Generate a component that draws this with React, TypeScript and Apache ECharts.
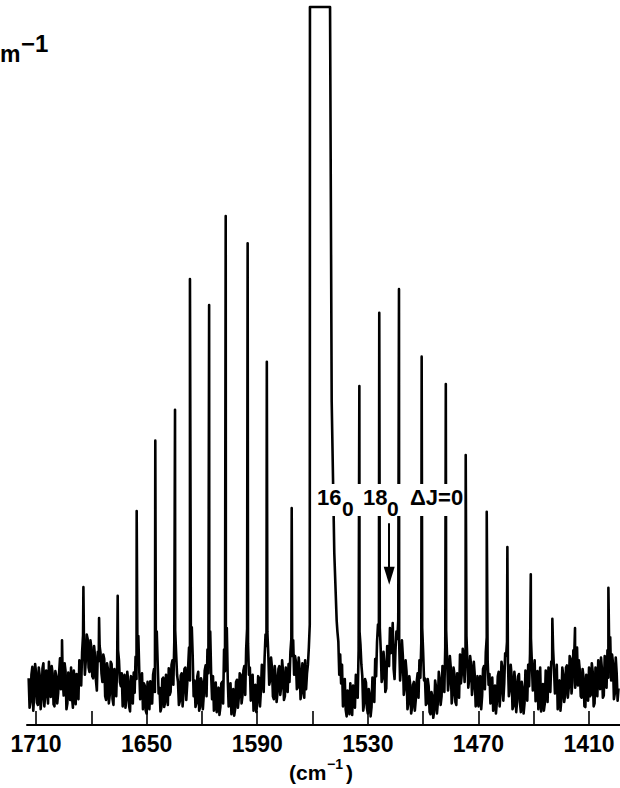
import React, { useEffect, useRef } from "react";
import * as echarts from "echarts";

// Baseline trace sampled every 1 cm-1 from 1714 down to 1394 (null = under the saturated band)
const noiseStart = 1714;
const noiseStep = 1;
const noise: (number | null)[] = [
  6.5, 3.2, 8.1, 4.0, 7.4, 2.8, 6.9, 3.5, 8.6, 4.2,
  5.1, 8.8, 3.9, 7.2, 2.6, 6.8, 4.4, 9.3, 8.0, 4.1,
  7.5, 3.0, 6.2, 8.0, 2.4, 5.8, 7.1, 3.6, 8.4, 10.2,
  11.5, 9.0, 12.0, 7.4, 10.8, 6.5, 9.6, 4.8, 8.9, 10.0,
  6.0, 9.2, 3.5, 7.8, 4.2, 8.5, 2.8, 6.4, 8.2, 9.0,
  5.4, 2.6, 7.0, 3.5, 6.2, 1.9, 5.0, 7.3, 9.5, 10.5,
  7.6, 4.0, 2.2, 5.5, 1.6, 4.3, 6.1, 3.0, 7.8, 11.0,
  8.5, 5.2, 2.4, 6.6, 3.1, 5.8, 7.9, 4.6, 9.0, 11.5,
  10.0, 6.0, 3.3, 7.2, 4.5, 8.0, 5.6, 10.8, 12.0, 9.5,
  6.2, 3.0, 7.4, 2.5, 5.9, 4.2, 8.3, 10.5, 11.2, 7.0,
  6.8, 3.4, 1.8, 5.2, 2.5, 6.0, 10.5, 11.0, 6.4, 3.1,
  1.5, 5.0, 2.2, 6.3, 3.8, 7.0, 4.1, 8.2, 10.6, 11.4,
  8.0, 4.4, 2.0, 5.6, 3.0, 6.5, 4.8, 7.6, 9.4, 11.0,
  9.8, 6.2, 8.0, 3.6, 6.8, 4.5, 8.2, 5.3, 7.5, 4.0,
  6.4, 8.5, 10.2, 9.6, 7.0, 8.8, 5.2, 7.9, 4.4, 6.6,
  9.0, 7.2, 10.8, null, null, null, null, null, null, null,
  null, null, null, null, null, null, null, null, 11.6, 9.8,
  8.4, 4.5, 2.1, 4.8, 1.5, 3.6, 5.5, 2.4, 6.8, 10.5,
  11.2, 6.8, 3.0, 5.9, 1.6, 4.2, 2.5, 6.0, 9.2, 11.6,
  12.5, 10.5, 6.6, 8.6, 5.1, 9.0, 13.5, 11.0, 7.8, 10.4,
  12.0, 11.5, 8.0, 9.6, 5.2, 7.4, 3.0, 5.6, 2.4, 6.0,
  3.5, 7.2, 9.0, 11.4, 10.2, 6.5, 3.0, 5.4, 1.5, 4.0,
  2.0, 5.3, 3.2, 6.4, 4.0, 7.6, 10.8, 9.4, 6.2, 8.0,
  4.2, 7.0, 2.8, 6.1, 9.8, 7.2, 8.8, 10.6, 9.0, 6.4,
  8.4, 5.5, 7.0, 3.8, 2.6, 6.8, 4.0, 8.2, 10.2, 9.0,
  7.1, 4.6, 2.0, 5.5, 3.2, 7.4, 4.4, 8.0, 5.8, 9.6,
  8.8, 5.0, 6.9, 2.6, 6.0, 3.4, 7.1, 1.8, 5.0, 3.0,
  6.6, 8.4, 10.0, 8.6, 6.0, 3.3, 7.5, 4.8, 1.9, 5.7,
  3.0, 6.4, 8.0, 4.6, 9.0, 7.8, 5.0, 2.2, 6.2, 3.6,
  7.0, 4.1, 8.3, 5.2, 9.2, 6.0, 10.0, 8.4, 5.5, 7.6,
  3.8, 6.7, 2.5, 5.9, 8.0, 4.2, 7.4, 3.0, 6.3, 9.0,
  5.0, 7.8, 4.1, 8.8, 10.4, 9.5, 6.2, 8.6, 4.4, 7.2, 5.1,
];

// Same trace, read at the half-way points 1713.5 ... 1394.5
const halfStart = 1713.5;
const noiseHalf: (number | null)[] = [
  2.4, 7.0, 2.0, 8.5, 3.1, 8.0, 2.2, 7.9, 2.6, 7.6,
  3.0, 4.6, 8.2, 2.9, 7.5, 3.0, 7.2, 5.0, 6.2, 8.6,
  2.2, 7.3, 3.5, 4.0, 7.6, 2.9, 4.0, 9.0, 5.5, 12.5,
  7.0, 12.6, 8.0, 11.8, 6.8, 11.0, 6.2, 10.2, 11.0, 7.2,
  9.8, 4.0, 8.6, 3.0, 8.8, 3.6, 7.8, 4.0, 10.4, 6.0,
  7.2, 6.0, 2.4, 7.4, 2.6, 6.8, 3.0, 4.5, 6.4, 12.4,
  3.6, 7.2, 5.8, 2.0, 6.0, 2.2, 3.0, 7.0, 4.6, 13.0,
  4.4, 1.9, 6.4, 2.5, 7.0, 2.8, 4.2, 8.4, 5.6, 13.2,
  7.0, 2.8, 6.9, 2.6, 7.8, 3.5, 8.0, 6.2, 13.6, 4.0,
  2.5, 6.8, 2.0, 6.5, 2.2, 7.6, 4.0, 7.2, 13.0, 3.6,
  2.0, 5.9, 4.6, 1.4, 5.8, 3.0, 7.5, 13.5, 2.6, 5.8,
  4.4, 1.3, 6.0, 2.4, 7.2, 3.0, 7.6, 4.2, 13.4, 7.0,
  3.4, 7.0, 5.4, 1.8, 6.8, 2.6, 8.4, 4.6, 12.6, 13.0,
  5.6, 9.4, 4.0, 8.2, 3.2, 7.8, 4.2, 9.0, 3.5, 8.0,
  4.6, 6.0, 12.0, 11.8, 9.6, 5.0, 9.4, 3.6, 8.6, 3.8,
  5.0, 8.4, null, null, null, null, null, null, null, null,
  null, null, null, null, null, null, null, 13.0, 7.0, 5.8,
  2.6, 6.4, 1.2, 4.0, 5.8, 1.4, 4.0, 7.0, 3.8, 13.0,
  8.4, 2.0, 6.4, 2.4, 5.0, 1.2, 6.6, 3.2, 6.8, 14.0,
  13.5, 6.0, 10.2, 4.6, 11.0, 8.2, 10.0, 14.2, 6.4, 13.0,
  14.5, 6.2, 11.8, 4.2, 9.0, 2.2, 6.8, 1.6, 5.6, 2.0,
  6.0, 3.8, 6.6, 13.5, 6.2, 2.8, 6.4, 1.8, 4.6, 1.0,
  6.2, 1.6, 7.4, 2.8, 8.2, 4.6, 13.2, 4.8, 9.6, 3.0,
  8.0, 3.2, 7.2, 3.8, 5.8, 10.6, 6.0, 12.4, 5.2, 9.6,
  4.2, 8.8, 2.6, 6.8, 5.4, 2.2, 7.8, 5.0, 12.2, 5.6,
  3.0, 6.6, 4.8, 1.6, 6.8, 2.6, 8.8, 3.4, 10.0, 11.6,
  4.0, 8.4, 2.2, 7.4, 1.8, 6.8, 3.2, 6.0, 1.6, 7.6,
  3.4, 5.4, 12.0, 4.8, 9.0, 6.8, 2.2, 8.0, 5.2, 2.0,
  7.6, 3.2, 5.0, 8.8, 10.6, 4.4, 8.4, 6.0, 2.0, 8.0,
  3.2, 8.0, 3.8, 9.6, 4.4, 10.4, 5.2, 10.8, 9.0, 4.0,
  7.8, 2.6, 7.0, 3.4, 4.0, 8.6, 2.6, 8.0, 4.0, 5.4,
  9.4, 3.8, 9.6, 5.2, 6.6, 12.2, 9.8, 3.6, 9.4, 3.4,
];

// Rotational lines (cm-1) and their heights (relative units)
const peakPositions = [
  1695.9, 1684.3, 1675.8, 1665.7, 1655.4, 1645.3, 1634.6, 1626.5, 1616.1, 1607.1,
  1595.2, 1584.8, 1571.3, 1534.6, 1523.8, 1513.1, 1500.8, 1487.7, 1476.9, 1465.5,
  1454.3, 1441.6, 1429.9, 1417.6, 1399.5,
];
const peakHeights = [
  11.8, 19.2, 14.9, 18.0, 29.8, 39.6, 43.9, 62.1, 58.5, 70.9,
  67.1, 50.6, 30.2, 47.2, 57.4, 60.7, 51.3, 47.5, 37.6, 29.7,
  24.8, 21.0, 14.8, 13.5, 19.1,
];

// Saturated central band outline
const bandOutline: [number, number][] = [
  [1561.5, 14], [1561.4, 100], [1550.5, 100], [1549.6, 45], [1548.2, 24], [1546.9, 14.5],
];

const tickValues = [1710, 1680, 1650, 1620, 1590, 1560, 1530, 1500, 1470, 1440, 1410];
const labelValues = [1710, 1650, 1590, 1530, 1470, 1410];

const arrowX = 1518.4;
const arrowFrom = 28.1;
const arrowTo = 20.8;

const FONT = '"Liberation Sans", Arial, Helvetica, sans-serif';

const App = () => {
  const ref = useRef<HTMLDivElement>(null);
  useEffect(() => {
    if (!ref.current) return;
    const chart = echarts.init(ref.current, null, { renderer: "svg" });
    const pts: [number, number][] = [];
    noise.forEach((y, i) => {
      if (y !== null) pts.push([noiseStart - i * noiseStep, y]);
    });
    noiseHalf.forEach((y, i) => {
      if (y !== null) pts.push([halfStart - i * noiseStep, y]);
    });
    peakPositions.forEach((p, i) => pts.push([p, peakHeights[i]]));
    bandOutline.forEach((p) => pts.push(p));
    pts.sort((a, b) => b[0] - a[0]);

    const txt = (x: number, y: number, text: string, size: number) => ({
      type: "text",
      x,
      y,
      z: 110,
      style: {
        text,
        font: `bold ${size}px ${FONT}`,
        fill: "#000",
        align: "left",
        verticalAlign: "middle",
      },
    });

    chart.setOption({
      animation: false,
      backgroundColor: "#fff",
      grid: { left: 27, right: 0, top: 3.4, bottom: 63, outerBoundsMode: "none", containLabel: false },
      xAxis: {
        type: "value",
        inverse: true,
        min: 1393.2,
        max: 1714.9,
        axisLine: { show: true, lineStyle: { color: "#000", width: 2 } },
        axisTick: {
          show: true,
          inside: true,
          length: 14,
          customValues: tickValues,
          lineStyle: { color: "#000", width: 1.6 },
        },
        axisLabel: {
          show: true,
          customValues: labelValues,
          formatter: (v: number) => String(Math.round(v)),
          margin: 7,
          color: "#000",
          fontSize: 23,
          fontWeight: "bold",
          fontFamily: FONT,
        },
        splitLine: { show: false },
      },
      yAxis: {
        type: "value",
        min: 0,
        max: 100.5,
        show: false,
        splitLine: { show: false },
      },
      series: [
        {
          type: "line",
          data: pts,
          showSymbol: false,
          symbol: "none",
          lineStyle: { color: "#000", width: 2.6, join: "round" },
          markLine: {
            silent: true,
            symbol: ["none", "triangle"],
            symbolSize: [11, 18],
            label: { show: false },
            lineStyle: { color: "#000", width: 2, type: "solid" },
            data: [[{ coord: [arrowX, arrowFrom] }, { coord: [arrowX, arrowTo] }]],
          },
        },
      ],
      graphic: [
        { type: "rect", z: 100, shape: { x: 315, y: 484, width: 147, height: 32 }, style: { fill: "#fff" } },
        txt(317, 497, "16", 22),
        txt(342, 508, "0", 21),
        txt(363, 497, "18", 22),
        txt(387, 508, "0", 21),
        txt(410, 497, "ΔJ=0", 22),
        txt(0, 54, "m", 23),
        txt(21, 43, "−1", 24),
        txt(289, 772, "(cm", 21),
        txt(327, 764, "−1", 14),
        txt(346, 772, ")", 21),
      ],
    });
    return () => chart.dispose();
  }, []);
  return (
    <div
      ref={ref}
      style={{ position: "absolute", left: 0, top: 0, width: 620, height: 788 }}
    />
  );
};

export default App;
